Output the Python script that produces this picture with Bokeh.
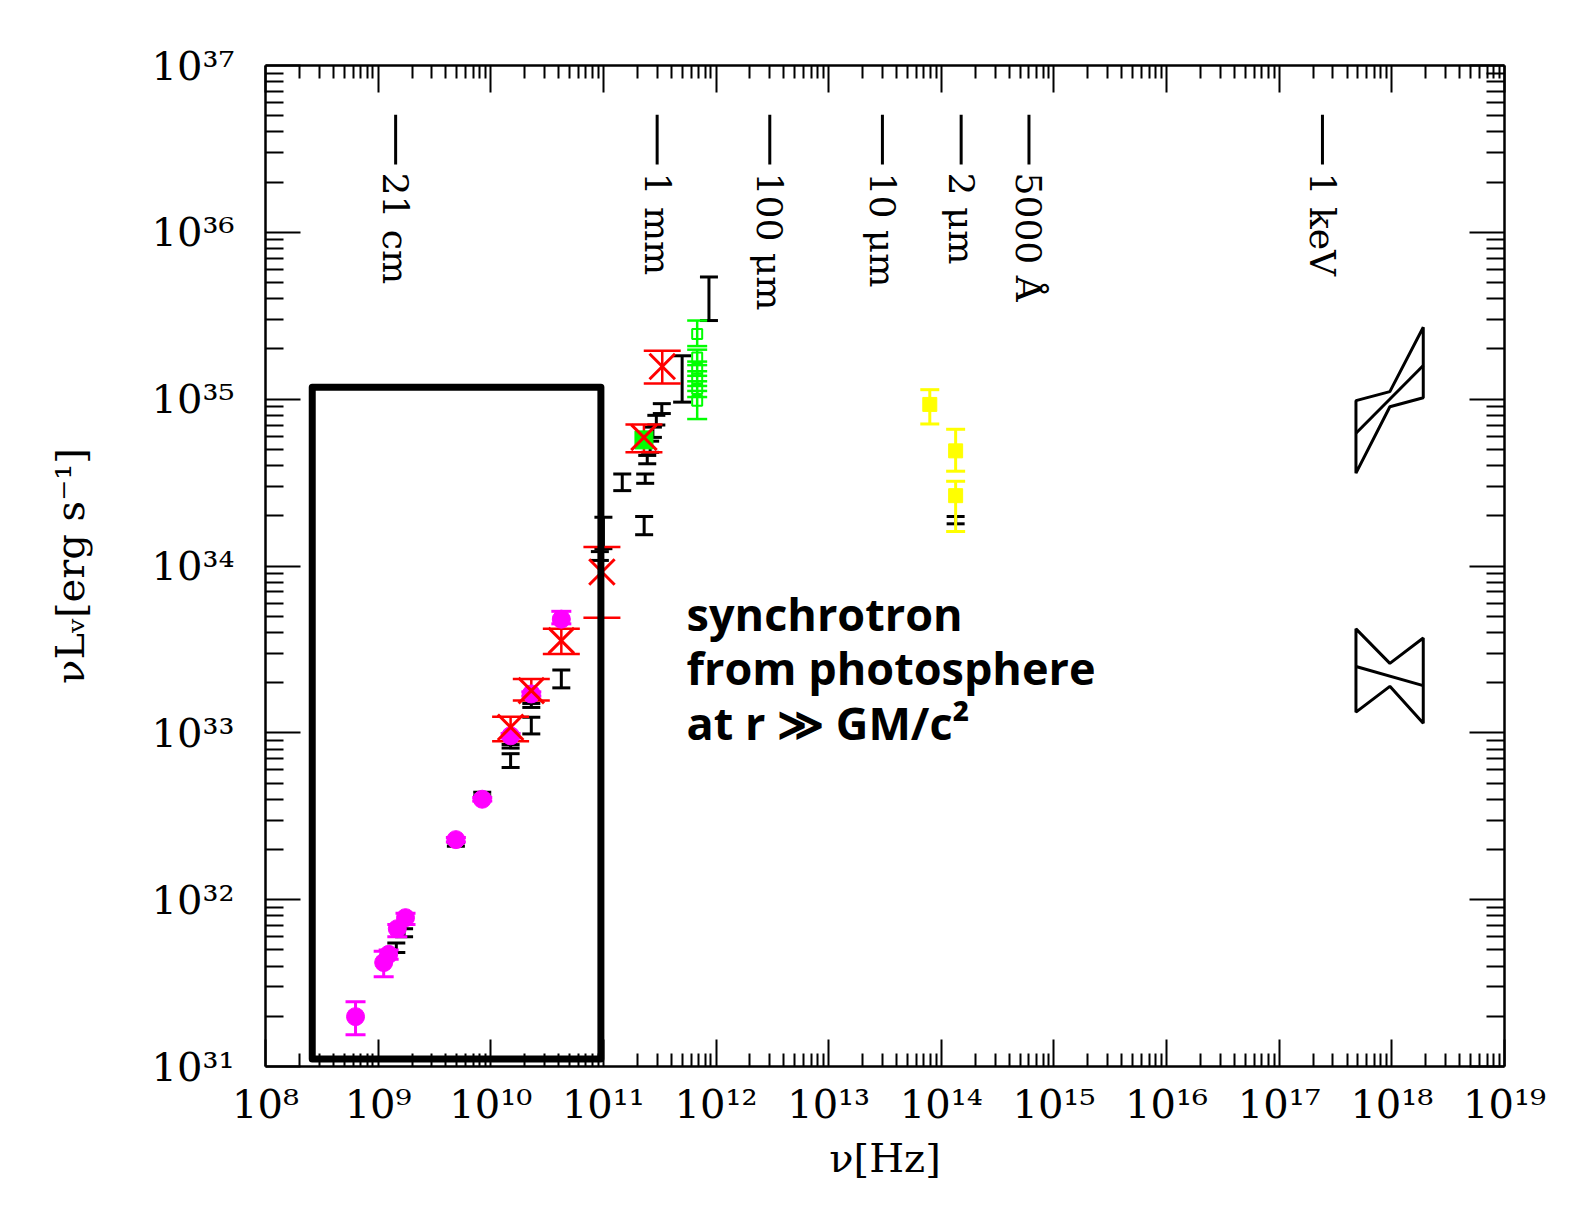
from bokeh.plotting import figure
from bokeh.models import (Range1d, FixedTicker, LogAxis, CustomJSTickFormatter,
                          ColumnDataSource, Whisker, TeeHead)
from bokeh.core.properties import value
from bokeh.embed import file_html
from bokeh.resources import INLINE
import math

# ---------------- data ----------------
magenta_nu = [6.3e8, 1.12e9, 1.24e9, 1.48e9, 1.75e9, 4.9e9, 8.4e9, 1.5e10, 2.29e10, 4.23e10]
magenta_L = [1.99e31, 4.2e31, 4.7e31, 6.7e31, 7.8e31, 2.29e32, 4.0e32, 9.6e32, 1.71e33, 4.8e33]
magenta_lo = [1.55e31, 3.45e31, 4.4e31, 6.0e31, 7.1e31, 2.22e32, 3.9e32, 9.3e32, 1.66e33, 4.5e33]
magenta_hi = [2.44e31, 4.9e31, 5.0e31, 7.1e31, 8.3e31, 2.36e32, 4.1e32, 9.9e32, 1.76e33, 5.35e33]

red_nu = [1.5e10, 2.29e10, 4.23e10, 9.7e10, 2.29e11, 3.33e11]
red_L = [1.08e33, 1.79e33, 3.57e33, 9.2e33, 5.9e34, 1.57e35]
red_lo = [8.9e32, 1.56e33, 2.97e33, 4.9e33, 4.8e34, 1.24e35]
red_hi = [1.25e33, 2.1e33, 4.2e33, 1.3e34, 7.05e34, 1.95e35]

black_nu = [1.45e9, 1.7e9, 4.9e9, 8.4e9, 1.5e10, 1.5e10, 2.29e10, 2.29e10, 4.23e10,
            0.93e11, 1.0e11, 1.47e11, 2.3e11, 2.35e11, 2.45e11, 2.6e11, 2.75e11,
            2.95e11, 3.3e11, 5.0e11, 8.65e11, 1.34e14]
black_L = [5.1e31, 6.3e31, 2.14e32, 4.3e32, 8.3e32, 6.8e32, 1.1e33, 1.46e33, 2.1e33,
           1.15e34, 1.55e34, 3.17e34, 1.75e34, 3.35e34, 4.35e34, 5.2e34, 6.3e34,
           7.5e34, 8.8e34, 1.32e35, 4.0e35, 1.89e34]
black_lo = [4.83e31, 6.0e31, 2.09e32, 4.2e32, 8.1e32, 6.2e32, 9.85e32, 1.42e33, 1.86e33,
            1.08e34, 1.27e34, 2.83e34, 1.54e34, 3.13e34, 4.1e34, 4.8e34, 5.9e34,
            7.0e34, 8.2e34, 9.6e34, 2.96e35, 1.79e34]
black_hi = [5.5e31, 6.7e31, 2.19e32, 4.4e32, 8.5e32, 7.5e32, 1.24e33, 1.50e33, 2.38e33,
            1.22e34, 1.96e34, 3.56e34, 1.98e34, 3.56e34, 4.6e34, 5.6e34, 6.8e34,
            8.0e34, 9.4e34, 1.82e35, 5.4e35, 1.98e34]

green_fill_nu = [2.29e11]
green_fill_L = [5.7e34]
green_open_nu = [6.8e11, 6.8e11, 6.8e11, 6.8e11, 6.8e11, 6.8e11]
green_open_L = [2.46e35, 1.78e35, 1.52e35, 1.33e35, 1.15e35, 9.8e34]
green_open_lo = [2.08e35, 1.6e35, 1.38e35, 1.2e35, 1.03e35, 7.6e34]
green_open_hi = [2.96e35, 1.98e35, 1.68e35, 1.47e35, 1.28e35, 1.12e35]

yellow_nu = [7.9e13, 1.34e14, 1.34e14]
yellow_L = [9.3e34, 4.9e34, 2.64e34]
yellow_lo = [7.1e34, 3.7e34, 1.61e34]
yellow_hi = [1.14e35, 6.6e34, 3.22e34]

# X-ray bow ties (outline and best-fit line)
bowtie1_nu = [4.8e17, 9.6e17, 1.9e18, 1.9e18, 9.6e17, 4.8e17]
bowtie1_L = [9.8e34, 1.11e35, 2.7e35, 1.02e35, 9.0e34, 3.6e34]
bowtie1_fit_nu = [4.8e17, 1.9e18]
bowtie1_fit_L = [6.25e34, 1.59e35]
bowtie2_nu = [4.8e17, 9.6e17, 1.9e18, 1.9e18, 9.6e17, 4.8e17]
bowtie2_L = [4.2e33, 2.61e33, 3.7e33, 1.14e33, 1.9e33, 1.33e33]
bowtie2_fit_nu = [4.8e17, 1.9e18]
bowtie2_fit_L = [2.5e33, 1.92e33]

# highlighted region
box_nu = [2.6e8, 9.5e10]
box_L = [1.11e31, 1.18e35]

# wavelength markers
wl_labels = ["21 cm", "1 mm", "100 \u03bcm", "10 \u03bcm", "2 \u03bcm", "5000 \u00c5", "1 keV"]
wl_nu = [1.43e9, 3.0e11, 3.0e12, 3.0e13, 1.5e14, 6.0e14, 2.42e17]

note_lines = ["synchrotron", "from photosphere", "at r \u226b GM/c\u00b2"]

# ---------------- figure ----------------
SERIF = "DejaVu Serif"
p = figure(width=1565, height=1215, x_axis_type="log", y_axis_type="log",
           x_range=Range1d(1e8, 1e19), y_range=Range1d(1e31, 1e37),
           output_backend="svg", toolbar_location=None,
           min_border_left=265, min_border_right=61,
           min_border_top=65, min_border_bottom=149)
p.grid.visible = False
p.outline_line_color = None
p.background_fill_color = "white"
p.border_fill_color = "white"

x_major = [10.0 ** e for e in range(8, 20)]
x_minor = [m * 10.0 ** e for e in range(8, 19) for m in range(2, 10)]
y_major = [10.0 ** e for e in range(31, 38)]
y_minor = [m * 10.0 ** e for e in range(31, 37) for m in range(2, 10)]

sup_js = """
const s = {"0":"\u2070","1":"\u00b9","2":"\u00b2","3":"\u00b3","4":"\u2074",
           "5":"\u2075","6":"\u2076","7":"\u2077","8":"\u2078","9":"\u2079","-":"\u207b"};
const e = Math.round(Math.log10(tick));
return "10" + String(e).split("").map(c => s[c]).join("");
"""


def style_axis(ax, major, minor, mj_in, mn_in, labels):
    ax.ticker = FixedTicker(ticks=major, minor_ticks=minor)
    ax.axis_line_width = 2.5
    ax.axis_line_color = "black"
    ax.major_tick_line_width = 2
    ax.minor_tick_line_width = 2
    ax.major_tick_line_color = "black"
    ax.minor_tick_line_color = "black"
    ax.major_tick_in = mj_in
    ax.major_tick_out = 0
    ax.minor_tick_in = mn_in
    ax.minor_tick_out = 0
    if labels:
        ax.formatter = CustomJSTickFormatter(code=sup_js)
        ax.major_label_text_font = SERIF
        ax.major_label_text_font_size = "40px"
        ax.major_label_text_color = "black"
    else:
        ax.formatter = CustomJSTickFormatter(code="return '';")
        ax.major_label_text_font_size = "1px"
        ax.major_label_standoff = 0


xb = p.below[0]
yl = p.left[0]
style_axis(xb, x_major, x_minor, 27, 13, True)
style_axis(yl, y_major, y_minor, 35, 18, True)
xb.major_label_standoff = 14
yl.major_label_standoff = 31
xb.axis_label = "\u03bd[Hz]"
yl.axis_label = "\u03bdL\u1d65[erg s\u207b\u00b9]"
for ax in (xb, yl):
    ax.axis_label_text_font = SERIF
    ax.axis_label_text_font_size = "40px"
    ax.axis_label_text_font_style = "normal"
    ax.axis_label_text_color = "black"
xb.axis_label_standoff = 5
yl.axis_label_standoff = 56

xt = LogAxis()
style_axis(xt, x_major, x_minor, 27, 13, False)
p.add_layout(xt, "above")
yr = LogAxis()
style_axis(yr, y_major, y_minor, 35, 18, False)
p.add_layout(yr, "right")


def add_err(nu, lo, hi, color, cap, lw):
    src = ColumnDataSource(dict(nu=nu, lo=lo, hi=hi))
    w = Whisker(source=src, base="nu", lower="lo", upper="hi", dimension="height",
                line_color=color, line_width=lw,
                upper_head=TeeHead(size=cap, line_color=color, line_width=lw),
                lower_head=TeeHead(size=cap, line_color=color, line_width=lw))
    p.add_layout(w)


# error bars
add_err(black_nu, black_lo, black_hi, "black", 18, 3)
add_err(magenta_nu, magenta_lo, magenta_hi, "#ff00ff", 20, 3)
add_err(green_open_nu, green_open_lo, green_open_hi, "#00ff00", 20, 2.5)
add_err(yellow_nu, yellow_lo, yellow_hi, "#ffff00", 19, 3)
add_err(red_nu, red_lo, red_hi, "#ff0000", 37, 2.5)

# markers
p.scatter(magenta_nu, magenta_L, marker="circle", size=18,
          fill_color="#ff00ff", line_color="#ff00ff")
p.scatter(green_fill_nu, green_fill_L, marker="square", size=18,
          fill_color="#00ff00", line_color="#00ff00")
p.scatter(green_open_nu, green_open_L, marker="square", size=10,
          fill_color=None, line_color="#00ff00", line_width=2)
p.scatter(yellow_nu, yellow_L, marker="square", size=14,
          fill_color="#ffff00", line_color="#ffff00")
p.scatter(red_nu, red_L, marker="x", size=36, line_color="#ff0000", line_width=3)

# highlighted region box
p.quad(left=[box_nu[0]], right=[box_nu[1]], bottom=[box_L[0]], top=[box_L[1]],
       fill_color=None, line_color="black", line_width=7, line_join="round")

# bow ties
for bx, by, fx, fy in ((bowtie1_nu, bowtie1_L, bowtie1_fit_nu, bowtie1_fit_L),
                       (bowtie2_nu, bowtie2_L, bowtie2_fit_nu, bowtie2_fit_L)):
    p.patch(bx, by, fill_color=None, line_color="black", line_width=3)
    p.line(fx, fy, line_color="black", line_width=3)

# wavelength markers along the top
seg_top, seg_bot, txt_top = 5.06e36, 2.55e36, 2.28e36
p.segment(x0=wl_nu, x1=wl_nu, y0=[seg_top] * len(wl_nu), y1=[seg_bot] * len(wl_nu),
          line_color="black", line_width=3)
p.text(x=wl_nu, y=[txt_top] * len(wl_nu), text=wl_labels, angle=-math.pi / 2,
       text_align="left", text_baseline="middle", text_font=value(SERIF),
       text_font_size="36px", text_color="black")

# annotation
note_x = [5.48e11, 5.48e11, 5.48e11]
note_y = [5.19e33, 2.46e33, 1.15e33]
p.text(x=note_x, y=note_y, text=note_lines, text_align="left", text_baseline="middle",
       text_font=value("Open Sans"), text_font_style="bold", text_font_size="45px",
       text_color="black")

open("out.html", "w").write(file_html(p, INLINE))
